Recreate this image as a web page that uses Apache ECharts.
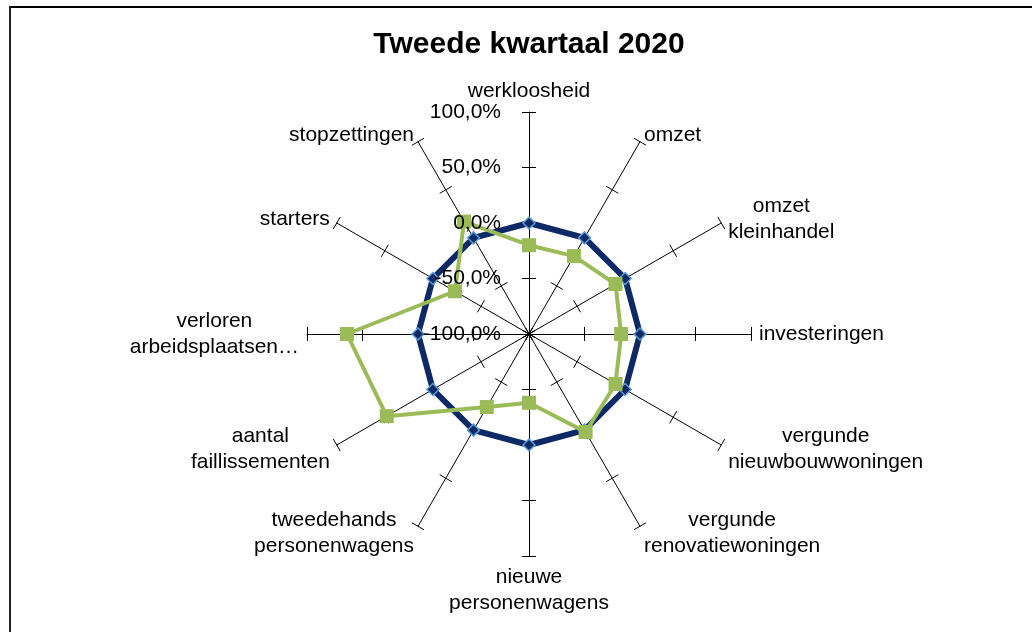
<!DOCTYPE html>
<html>
<head>
<meta charset="utf-8">
<title>Tweede kwartaal 2020</title>
<script src="https://cdn.jsdelivr.net/npm/echarts@6/dist/echarts.min.js"></script>
<style>
  html, body { margin: 0; padding: 0; background: #fff; }
  .frame {
    position: absolute; left: 9px; top: 6px; width: 1040px; height: 640px;
    border-top: 2px solid #000; border-left: 2px solid #222;
  }
  .chart-container { position: absolute; left: 0; top: 0; width: 1032px; height: 632px; }
</style>
</head>
<body>
<div class="frame"></div>
<div id="chart" class="chart-container"></div>
<script>
// categories, clockwise from the top (like the original chart)
const categories = [
  'werkloosheid',
  'omzet',
  'omzet\nkleinhandel',
  'investeringen',
  'vergunde\nnieuwbouwwoningen',
  'vergunde\nrenovatiewoningen',
  'nieuwe\npersonenwagens',
  'tweedehands\npersonenwagens',
  'aantal\nfaillissementen',
  'verloren\narbeidsplaatsen…',
  'starters',
  'stopzettingen'
]
// reference line (0%) and the quarter values, as fractions
const baseValues = [0, 0, 0, 0, 0, 0, 0, 0, 0, 0, 0, 0]
const quarterValues = [-0.20, -0.19, -0.10, -0.17, -0.10, 0.02, -0.38, -0.24, 0.48, 0.64, -0.23, 0.17]
// scale
const axisMin = -1
const axisMax = 1
const axisInterval = 0.5

const FONT = 'Liberation Sans, Arial, sans-serif'

// echarts radar runs counter-clockwise, so flip the order after the first one
const order = [0].concat(categories.map((c, i) => i).slice(1).reverse())
const pick = arr => order.map(i => arr[i])

const fmtPct = v => (v * 100).toFixed(1).replace('.', ',') + '%'

// shared radar geometry
const radarBase = {
  center: [529, 334],
  radius: 222,
  startAngle: 90,
  splitNumber: (axisMax - axisMin) / axisInterval,
  shape: 'polygon',
  splitLine: { show: false },
  splitArea: { show: false },
  axisLabel: { show: false }
}

const makeIndicators = withLabel => pick(categories).map((name, i) => {
  const ind = { name: name, min: axisMin, max: axisMax }
  if (withLabel && i === 0) {
    ind.axisLabel = {
      show: true,
      color: '#000',
      fontSize: 21,
      fontFamily: FONT,
      margin: 28,
      formatter: fmtPct
    }
  }
  return ind
})

const chart = echarts.init(document.getElementById('chart'))
const option = {
  animation: false,
  title: {
    text: 'Tweede kwartaal 2020',
    left: 524,
    top: 25,
    textAlign: 'center',
    textStyle: {
      fontFamily: FONT,
      fontSize: 30,
      fontWeight: 'bold',
      color: '#000'
    }
  },
  radar: [
    // axes, one half of the ticks and the category names
    Object.assign({}, radarBase, {
      z: 0,
      nameGap: 8,
      axisName: {
        color: '#000',
        fontFamily: FONT,
        formatter: name => name.split('\n').map(l => '{c|' + l + '}').join('\n'),
        rich: {
          c: { align: 'center', fontSize: 21, lineHeight: 26, fontFamily: FONT, color: '#000' }
        }
      },
      axisLine: { lineStyle: { color: '#000', width: 1 } },
      axisTick: { show: true, length: 7, lineStyle: { color: '#000', width: 1 } },
      indicator: makeIndicators(false)
    }),
    // other half of the ticks (negative length flips the side)
    Object.assign({}, radarBase, {
      z: 0,
      axisName: { show: false },
      axisLine: { show: false },
      axisTick: { show: true, length: -7, lineStyle: { color: '#000', width: 1 } },
      indicator: makeIndicators(false)
    }),
    // value labels, drawn above the lines
    Object.assign({}, radarBase, {
      z: 10,
      axisName: { show: false },
      axisLine: { show: false },
      axisTick: { show: false },
      indicator: makeIndicators(true)
    })
  ],
  series: [
    {
      type: 'radar',
      radarIndex: 0,
      z: 2,
      data: [
        {
          name: 'basis',
          value: pick(baseValues),
          symbol: 'diamond',
          symbolSize: 12,
          lineStyle: { color: '#0d2a66', width: 6 },
          itemStyle: { color: '#0d2a66', borderColor: '#5b9bd5', borderWidth: 1.5 }
        }
      ]
    },
    {
      type: 'radar',
      radarIndex: 0,
      z: 3,
      data: [
        {
          name: 'Tweede kwartaal 2020',
          value: pick(quarterValues),
          symbol: 'rect',
          symbolSize: 14,
          lineStyle: { color: '#9bbb59', width: 4 },
          itemStyle: { color: '#9bbb59', borderWidth: 0 }
        }
      ]
    }
  ]
}
chart.setOption(option)
</script>
</body>
</html>
